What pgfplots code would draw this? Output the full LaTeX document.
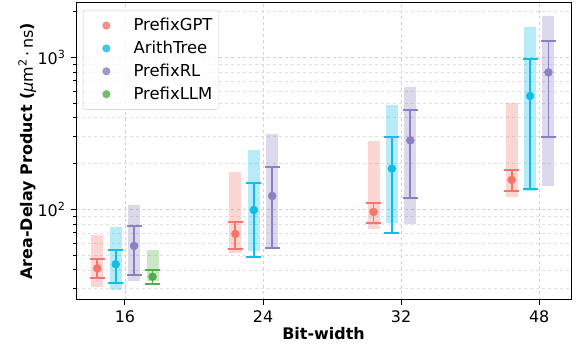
\documentclass[border=0pt]{standalone}
\usepackage{pgfplots}
\pgfplotsset{compat=1.18}
\usepackage{fontspec}
\setmainfont{DejaVu Sans}
\definecolor{cgpt}{HTML}{F2766B}
\definecolor{carith}{HTML}{10BDE6}
\definecolor{crl}{HTML}{8A80C2}
\definecolor{cllm}{HTML}{4EAF4A}
\begin{document}
\fontsize{16}{19}\selectfont
\begin{tikzpicture}
\begin{axis}[name=ax, scale only axis, width=495bp, height=297.5bp,
  ymode=log, xmin=-0.354, xmax=3.23, ymin=25.3, ymax=2290,
  xtick={0,1,2,3}, xticklabels={16,24,32,48},
  ytick={100,1000}, yticklabels={10\textsuperscript{2},10\textsuperscript{3}},
  minor ytick={30,40,50,60,70,80,90,200,300,400,500,600,700,800,900,2000},
  tick align=outside, xtick pos=bottom, ytick pos=left,
  major tick length=5bp, minor tick length=3bp,
  tick style={black, line width=0.8bp},
  grid=both,
  major grid style={gray!35, dashed, line width=0.6bp},
  minor grid style={gray!25, dashed, line width=0.5bp},
  axis line style={line width=1bp},
  tick label style={font=\fontsize{16}{19}\selectfont},
  label style={font=\fontsize{16}{19}\selectfont},
  xlabel={\bfseries Bit-width},
  ylabel={\bfseries Area-Delay Product ({\mdseries\itshape μ\upshape m\textsuperscript{2}\,·\,ns})},
  xlabel style={at={(axis description cs:0.5,0)}, anchor=base, yshift=-40bp},
  ylabel style={at={(axis description cs:-0.0869,0.5)}, anchor=base},
  unbounded coords=jump,
  legend style={at={(0.0141,0.975)}, anchor=north west, draw=gray!40, rounded corners=2bp,
    fill=white, fill opacity=0.8, text opacity=1, row sep=4bp,
    font=\fontsize{16.5}{19}\selectfont, cells={anchor=west}, inner xsep=4bp, inner ysep=6bp},
  legend image code/.code={\path (0bp,0bp) (44bp,0bp); \draw[#1, mark size=3.7bp] plot coordinates {(19bp,0bp)};},
]
% boxes (range)
\addplot[forget plot, draw=cgpt, draw opacity=0.3, line width=12bp, line cap=butt]
  coordinates {(-0.2,31) (-0.2,67.8) (-0.2,nan) (0.8,51.3) (0.8,176.6) (0.8,nan)
               (1.8,73.8) (1.8,281) (1.8,nan) (2.8,121) (2.8,498)};
\addplot[forget plot, draw=carith, draw opacity=0.3, line width=12bp, line cap=butt]
  coordinates {(-0.0667,29.4) (-0.0667,76.2) (-0.0667,nan) (0.9333,53.2) (0.9333,245.5) (0.9333,nan)
               (1.9333,80.9) (1.9333,485) (1.9333,nan) (2.9333,132.5) (2.9333,1590)};
\addplot[forget plot, draw=crl, draw opacity=0.3, line width=12bp, line cap=butt]
  coordinates {(0.0667,33.9) (0.0667,106.7) (0.0667,nan) (1.0667,54.6) (1.0667,311) (1.0667,nan)
               (2.0667,79.7) (2.0667,635) (2.0667,nan) (3.0667,143) (3.0667,1870)};
\addplot[forget plot, draw=cllm, draw opacity=0.3, line width=12bp, line cap=butt]
  coordinates {(0.2,33.9) (0.2,54)};
% error bars
\addplot[forget plot, cgpt, line width=1.8bp, mark=-, mark size=7.5bp, mark options={solid, line width=1.8bp}]
  coordinates {(-0.2,35.5) (-0.2,46.9) (-0.2,nan) (0.8,54.6) (0.8,82.8) (0.8,nan)
               (1.8,80.9) (1.8,110.5) (1.8,nan) (2.8,132) (2.8,181)};
\addplot[forget plot, carith, line width=1.8bp, mark=-, mark size=7.5bp, mark options={solid, line width=1.8bp}]
  coordinates {(-0.0667,32.6) (-0.0667,54.2) (-0.0667,nan) (0.9333,48.8) (0.9333,148) (0.9333,nan)
               (1.9333,70.2) (1.9333,300) (1.9333,nan) (2.9333,136) (2.9333,979)};
\addplot[forget plot, crl, line width=1.8bp, mark=-, mark size=7.5bp, mark options={solid, line width=1.8bp}]
  coordinates {(0.0667,36.8) (0.0667,78) (0.0667,nan) (1.0667,55.6) (1.0667,188.7) (1.0667,nan)
               (2.0667,119) (2.0667,448) (2.0667,nan) (3.0667,299) (3.0667,1280)};
\addplot[forget plot, cllm, line width=1.8bp, mark=-, mark size=7.5bp, mark options={solid, line width=1.8bp}]
  coordinates {(0.2,32.4) (0.2,39.9)};
% means
\addplot[only marks, mark=*, mark size=4bp, color=cgpt, mark options={draw=cgpt, fill=cgpt}]
  coordinates {(-0.2,40.9) (0.8,68.8) (1.8,96) (2.8,156)};
\addlegendentry{PrefixGPT}
\addplot[only marks, mark=*, mark size=4bp, color=carith, mark options={draw=carith, fill=carith}]
  coordinates {(-0.0667,43.5) (0.9333,98.9) (1.9333,185) (2.9333,556)};
\addlegendentry{ArithTree}
\addplot[only marks, mark=*, mark size=4bp, color=crl, mark options={draw=crl, fill=crl}]
  coordinates {(0.0667,57.4) (1.0667,122.3) (2.0667,284) (3.0667,795)};
\addlegendentry{PrefixRL}
\addplot[only marks, mark=*, mark size=4bp, color=cllm, mark options={draw=cllm, fill=cllm}]
  coordinates {(0.2,36.0)};
\addlegendentry{PrefixLLM}
\end{axis}
\pgfresetboundingbox
\path ([xshift=-76bp,yshift=-49bp]ax.south west) rectangle ([xshift=5bp,yshift=2.5bp]ax.north east);
\end{tikzpicture}
\end{document}
